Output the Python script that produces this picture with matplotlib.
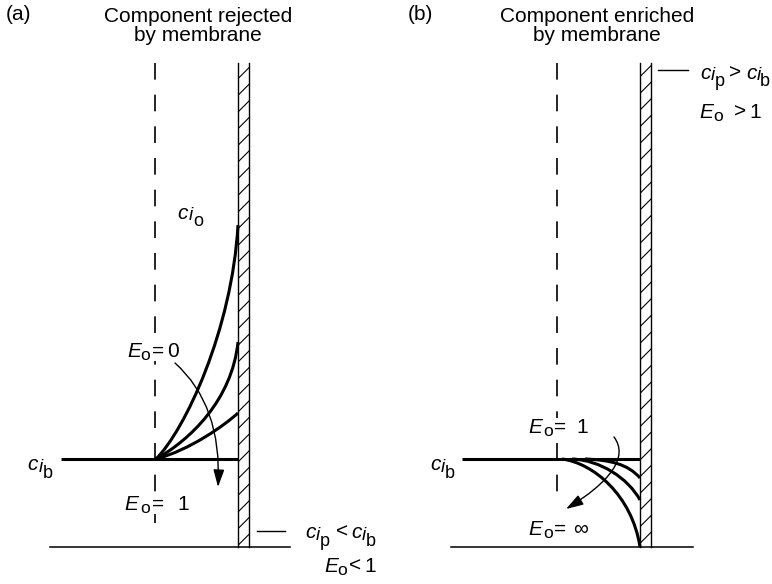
import matplotlib.pyplot as plt
from matplotlib.path import Path
from matplotlib.patches import PathPatch, Rectangle, FancyArrowPatch

plt.rcParams['font.family'] = ['Liberation Sans', 'DejaVu Sans']
plt.rcParams['hatch.linewidth'] = 0.8

# panel geometry (picture coords, y down)
panel_tags = ['(a)', '(b)']
titles = ['Component rejected\nby membrane', 'Component enriched\nby membrane']
title_x = [198, 597]
tag_x = [6, 408]
dash_x = [155, 557]
dash_y = [(63, 533), (63, 503)]
membrane_x = [238, 640]
membrane_w = 11
membrane_y = (63, 547)
bulk_y = 459
bulk_line_x = [(61, 238), (462, 640)]
base_line_x = [(50, 290), (451, 693)]
base_y = 547
perm_tick = [((257, 285), 531), ((658, 688), 70)]

# concentration profiles, cubic bezier control points
rejected_curves = [
    [(156, 459), (185, 430), (232, 330), (238, 225)],
    [(156, 459), (190, 440), (232, 400), (238, 342)],
    [(156, 459), (190, 450), (225, 425), (238, 413)],
]
enriched_curves = [
    [(562, 459), (593, 463), (632, 495), (640, 547)],
    [(572, 459), (600, 460), (628, 478), (640, 500)],
    [(585, 459), (610, 460), (628, 464), (640, 478)],
]
arrow_a = [(175, 363), (222, 405), (218, 487)]
arrow_b = [(614, 437), (629, 457), (610, 482), (566, 509)]

# piece kinds: font size, style, baseline shift
kinds = {
    'it': (15, 'italic', 0),
    'rm': (15, 'normal', 0),
    'i': (13.5, 'italic', 1.5),
    'ss': (13, 'normal', 7.5),
    'eo': (12.5, 'normal', 3),
}


def conc(x0, xi, xs, sub):
    return [(x0, 'c', 'it'), (xi, 'i', 'i'), (xs, sub, 'ss')]


def eo(x0, xo):
    return [(x0, 'E', 'it'), (xo, 'o', 'eo')]


labels = [
    (219, conc(177, 189, 193, 'o')),
    (470, conc(27, 39, 43, 'b')),
    (357, eo(127, 140) + [(152, '=', 'rm'), (167, '0', 'rm')]),
    (510, eo(124, 140) + [(152, '=', 'rm'), (177, '1', 'rm')]),
    (538, conc(305, 316, 320, 'p') + [(336, '<', 'rm')] + conc(351, 362, 366, 'b')),
    (572, eo(324, 337) + [(349, '<', 'rm'), (364, '1', 'rm')]),
    (470, conc(430, 441, 445, 'b')),
    (433, eo(528, 543) + [(554, '=', 'rm'), (576, '1', 'rm')]),
    (535, eo(528, 543) + [(554, '=', 'rm'), (573, '\u221e', 'rm')]),
    (79, conc(700, 711, 715, 'p') + [(729, '>', 'rm')] + conc(746, 757, 760, 'b')),
    (118, eo(699, 713) + [(734, '>', 'rm'), (749, '1', 'rm')]),
]

fig = plt.figure(figsize=(7.72, 5.84), dpi=100)
ax = fig.add_axes([0, 0, 1, 1])
ax.set_xlim(0, 772)
ax.set_ylim(584, 0)
ax.axis('off')

for i in range(2):
    ax.text(tag_x[i], 14, panel_tags[i], fontsize=15, ha='left', va='center')
    ax.text(title_x[i], 26, titles[i], fontsize=15, ha='center', va='center',
            linespacing=1.05)
    ax.plot([dash_x[i], dash_x[i]], dash_y[i], color='black', lw=1.2,
            dashes=[10, 9])
    ax.add_patch(Rectangle((membrane_x[i], membrane_y[0]), membrane_w,
                           membrane_y[1] - membrane_y[0], facecolor='white',
                           edgecolor='black', lw=0, hatch='//'))
    for xm in (membrane_x[i], membrane_x[i] + membrane_w):
        ax.plot([xm, xm], membrane_y, color='black', lw=1.0)
    ax.plot(bulk_line_x[i], [bulk_y, bulk_y], color='black', lw=2.2,
            solid_capstyle='butt')
    ax.plot(base_line_x[i], [base_y, base_y], color='black', lw=1.1)
    ax.plot(perm_tick[i][0], [perm_tick[i][1]] * 2, color='black', lw=1.0)

codes4 = [Path.MOVETO, Path.CURVE4, Path.CURVE4, Path.CURVE4]
for pts in rejected_curves + enriched_curves:
    ax.add_patch(PathPatch(Path(pts, codes4), fill=False, lw=2.2,
                           edgecolor='black', capstyle='butt'))

ax.add_patch(FancyArrowPatch(path=Path(arrow_a, [Path.MOVETO, Path.CURVE3, Path.CURVE3]),
                             arrowstyle='-|>,head_length=0.7,head_width=0.22',
                             mutation_scale=15, lw=1.0, color='black'))
ax.add_patch(FancyArrowPatch(path=Path(arrow_b, codes4),
                             arrowstyle='-|>,head_length=0.7,head_width=0.22',
                             mutation_scale=15, lw=1.0, color='black'))

# labels built piece by piece so subscripts keep their size;
# the upright signs mask the dashed line like in the original
for y, parts in labels:
    for x, s, kind in parts:
        size, style, dy = kinds[kind]
        box = dict(fc='white', ec='none', pad=0.1) if kind == 'rm' else None
        ax.text(x, y + dy, s, fontsize=size, style=style, ha='left',
                va='baseline', zorder=5, bbox=box)

fig.savefig('out.png', dpi=100)
